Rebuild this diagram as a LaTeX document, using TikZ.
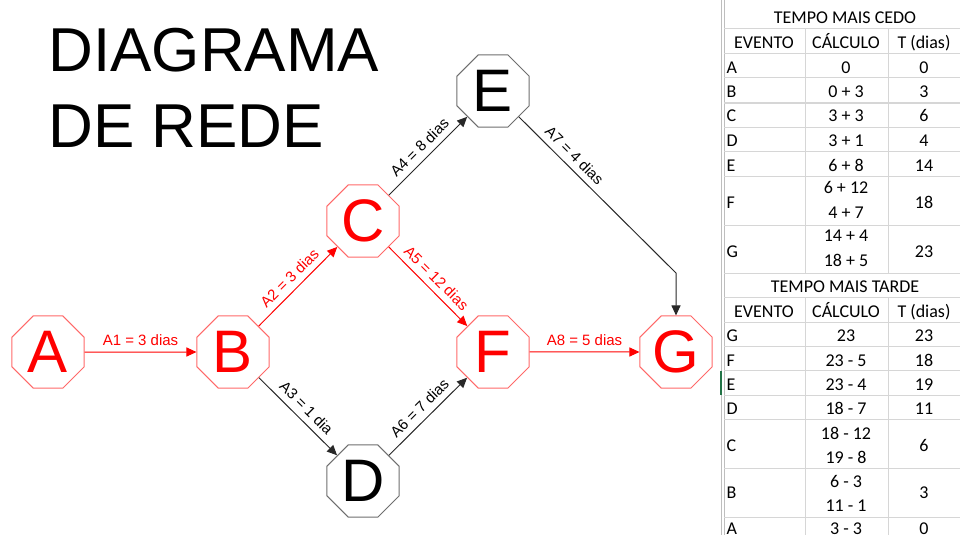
\documentclass[tikz,border=0pt]{standalone}
\usepackage{fontspec}
\setmainfont{Liberation Sans}
\newfontfamily\calibrifont{Carlito}
\usetikzlibrary{shapes.geometric,arrows.meta}

\tikzset{every picture/.style={line width=0.75pt}}
\tikzset{
  evento/.style={regular polygon, regular polygon sides=8, minimum size=58.5pt, inner sep=0pt, fill=white, font=\fontsize{45}{45}\selectfont},
  evcrit/.style={evento, draw={rgb, 255:red, 255; green, 105; blue, 105 }, text={rgb, 255:red, 255; green, 0; blue, 0 }},
  evnorm/.style={evento, draw={rgb, 255:red, 110; green, 110; blue, 110 }, text=black},
  ativcrit/.style={draw={rgb, 255:red, 255; green, 0; blue, 0 }, -{Triangle[length=7.5pt,width=6.75pt]}},
  ativnorm/.style={draw={rgb, 255:red, 40; green, 40; blue, 40 }, -{Triangle[length=7.5pt,width=6.75pt]}},
  rotulo/.style={font=\fontsize{11.25}{13}\selectfont, above, inner sep=4.5pt},
  rotcrit/.style={rotulo, text={rgb, 255:red, 255; green, 0; blue, 0 }},
  rotnorm/.style={rotulo, text=black},
  titulo/.style={font=\fontsize{46.5}{56}\selectfont, anchor=base west, inner sep=0pt},
  grade/.style={draw={rgb, 255:red, 214; green, 214; blue, 214 }},
  celula/.style={font=\calibrifont\fontsize{13.5}{16}\selectfont, anchor=base, inner sep=0pt},
  celesq/.style={celula, anchor=base west}
}

\begin{document}
\begin{tikzpicture}[x=0.75pt,y=0.75pt,yscale=-1,xscale=1]
\clip (0,0) rectangle (960,535);

%Text: titulo
\node[titulo] (tit1) at (48,72) {DIAGRAMA};
\node[titulo] (tit2) at (48,147) {DE REDE};

%Shape: Octagons (eventos)
\node[evcrit] (A) at (48,352) {A};
\node[evcrit] (B) at (233,352) {B};
\node[evcrit] (C) at (363,221) {C};
\node[evnorm] (D) at (363,481) {D};
\node[evnorm] (E) at (493,91) {E};
\node[evcrit] (F) at (493,352) {F};
\node[evcrit] (G) at (676,352) {G};
\coordinate (dobra) at (676,273);

%Straight Lines: atividades
\draw[ativcrit] (A) -- node[rotcrit, midway] {A1 = 3 dias} (B);
\draw[ativcrit] (B) -- node[rotcrit, midway, rotate=45] {A2 = 3 dias} (C);
\draw[ativnorm] (B) -- node[rotnorm, midway, rotate=-45] {A3 = 1 dia} (D);
\draw[ativnorm] (C) -- node[rotnorm, midway, rotate=45] {A4 = 8 dias} (E);
\draw[ativcrit] (C) -- node[rotcrit, midway, rotate=-45] {A5 = 12 dias} (F);
\draw[ativnorm] (D) -- node[rotnorm, midway, rotate=45] {A6 = 7 dias} (F);
\draw[ativnorm] (E.-45) -- node[rotnorm, pos=0.3, rotate=-45] {A7 = 4 dias} (dobra) -- (G);
\draw[ativcrit] (F) -- node[rotcrit, midway] {A8 = 5 dias} (G);

%Shape: grade da tabela
\draw[draw={rgb, 255:red, 190; green, 190; blue, 190 }] (721,0) -- (721,535);
\draw[draw={rgb, 255:red, 190; green, 190; blue, 190 }] (724,0) -- (724,535);
\draw[draw={rgb, 255:red, 33; green, 115; blue, 70 }, line width=1.5pt] (721,371) -- (721,395);
\draw[grade] (724,29) -- (960,29);
\draw[grade] (724,54) -- (960,54);
\draw[grade] (724,78) -- (960,78);
\draw[grade] (724,103) -- (960,103);
\draw[grade] (724,127) -- (960,127);
\draw[grade] (724,151) -- (960,151);
\draw[grade] (724,176) -- (960,176);
\draw[grade] (724,225) -- (960,225);
\draw[grade] (724,273) -- (960,273);
\draw[grade] (724,297) -- (960,297);
\draw[grade] (724,322) -- (960,322);
\draw[grade] (724,346) -- (960,346);
\draw[grade] (724,370) -- (960,370);
\draw[grade] (724,395) -- (960,395);
\draw[grade] (724,419) -- (960,419);
\draw[grade] (724,468) -- (960,468);
\draw[grade] (724,517) -- (960,517);
\draw[grade] (805,29) -- (805,273);
\draw[grade] (888,29) -- (888,273);
\draw[grade] (805,297) -- (805,535);
\draw[grade] (888,297) -- (888,535);

%Text: tempo mais cedo
\node[celula] (cedo) at (845,24) {TEMPO MAIS CEDO};
\node[celula] (cedoEv) at (764,49) {EVENTO};
\node[celula] (cedoCa) at (846,49) {CÁLCULO};
\node[celula] (cedoT) at (924,49) {T (dias)};
\node[celesq] (cedoA) at (726,74) {A};
\node[celula] (cedoAc) at (846,74) {0};
\node[celula] (cedoAt) at (924,74) {0};
\node[celesq] (cedoB) at (726,98) {B};
\node[celula] (cedoBc) at (846,98) {0 + 3};
\node[celula] (cedoBt) at (924,98) {3};
\node[celesq] (cedoC) at (726,122) {C};
\node[celula] (cedoCc) at (846,122) {3 + 3};
\node[celula] (cedoCt) at (924,122) {6};
\node[celesq] (cedoD) at (726,146) {D};
\node[celula] (cedoDc) at (846,146) {3 + 1};
\node[celula] (cedoDt) at (924,146) {4};
\node[celesq] (cedoE) at (726,171) {E};
\node[celula] (cedoEc) at (846,171) {6 + 8};
\node[celula] (cedoEt) at (924,171) {14};
\node[celesq] (cedoF) at (726,208) {F};
\node[celula] (cedoFc1) at (846,193) {6 + 12};
\node[celula] (cedoFc2) at (846,218) {4 + 7};
\node[celula] (cedoFt) at (924,208) {18};
\node[celesq] (cedoG) at (726,257) {G};
\node[celula] (cedoGc1) at (846,241) {14 + 4};
\node[celula] (cedoGc2) at (846,266) {18 + 5};
\node[celula] (cedoGt) at (924,257) {23};

%Text: tempo mais tarde
\node[celula] (tarde) at (845,292) {TEMPO MAIS TARDE};
\node[celula] (tardeEv) at (764,317) {EVENTO};
\node[celula] (tardeCa) at (846,317) {CÁLCULO};
\node[celula] (tardeT) at (924,317) {T (dias)};
\node[celesq] (tardeG) at (726,341) {G};
\node[celula] (tardeGc) at (846,341) {23};
\node[celula] (tardeGt) at (924,341) {23};
\node[celesq] (tardeF) at (726,366) {F};
\node[celula] (tardeFc) at (846,366) {23 - 5};
\node[celula] (tardeFt) at (924,366) {18};
\node[celesq] (tardeE) at (726,390) {E};
\node[celula] (tardeEc) at (846,390) {23 - 4};
\node[celula] (tardeEt) at (924,390) {19};
\node[celesq] (tardeD) at (726,414) {D};
\node[celula] (tardeDc) at (846,414) {18 - 7};
\node[celula] (tardeDt) at (924,414) {11};
\node[celesq] (tardeC) at (726,451) {C};
\node[celula] (tardeCc1) at (846,439) {18 - 12};
\node[celula] (tardeCc2) at (846,463) {19 - 8};
\node[celula] (tardeCt) at (924,451) {6};
\node[celesq] (tardeB) at (726,498) {B};
\node[celula] (tardeBc1) at (846,487) {6 - 3};
\node[celula] (tardeBc2) at (846,511) {11 - 1};
\node[celula] (tardeBt) at (924,498) {3};
\node[celesq] (tardeA) at (726,534) {A};
\node[celula] (tardeAc) at (846,534) {3 - 3};
\node[celula] (tardeAt) at (924,534) {0};

\end{tikzpicture}
\end{document}
